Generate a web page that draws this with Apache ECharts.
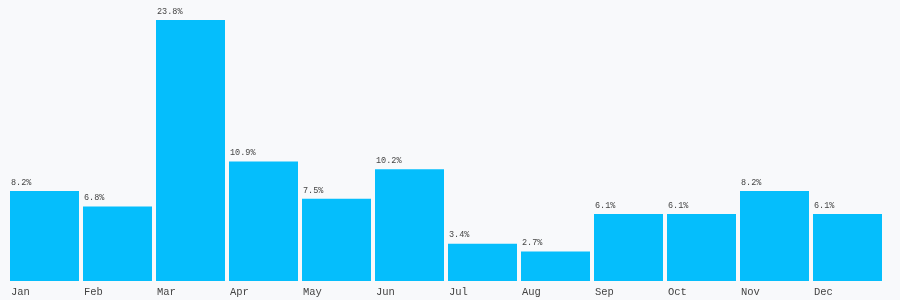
<!DOCTYPE html>
<html><head><meta charset="utf-8">
<script src="https://cdn.jsdelivr.net/npm/echarts@6/dist/echarts.min.js"></script>
<style>html,body{margin:0;padding:0;background:#f8f9fb;}#c{width:900px;height:300px;}</style>
</head><body><div id="c"></div>
<script>
const months = ['Jan','Feb','Mar','Apr','May','Jun','Jul','Aug','Sep','Oct','Nov','Dec'];
const shares = [8.2, 6.8, 23.8, 10.9, 7.5, 10.2, 3.4, 2.7, 6.1, 6.1, 8.2, 6.1];
const chart = echarts.init(document.getElementById('c'));
chart.setOption({
  backgroundColor: '#f8f9fb',
  animation: false,
  grid: {left: 8, right: 16, top: 20, bottom: 19},
  xAxis: {
    type: 'category', data: months,
    axisLine: {show: false}, axisTick: {show: false},
    axisLabel: {
      margin: 6, align: 'center',
      formatter: v => '{a|' + v + '}',
      rich: {a: {width: 69, align: 'left', padding: [0, 0, 0, 2], fontFamily: 'Liberation Mono', fontSize: 10.5, color: '#444'}}
    }
  },
  yAxis: {type: 'value', min: 0, max: 23.8, show: false, splitLine: {show: false}},
  series: [{
    type: 'bar', data: shares, barCategoryGap: 4,
    barWidth: 69,
    itemStyle: {color: '#05befc'},
    label: {
      show: true, position: [1, -4], align: 'left', verticalAlign: 'bottom',
      formatter: p => p.value.toFixed(1) + '%',
      fontFamily: 'Liberation Mono', fontSize: 8.5, color: '#444'
    }
  }]
});
</script></body></html>
